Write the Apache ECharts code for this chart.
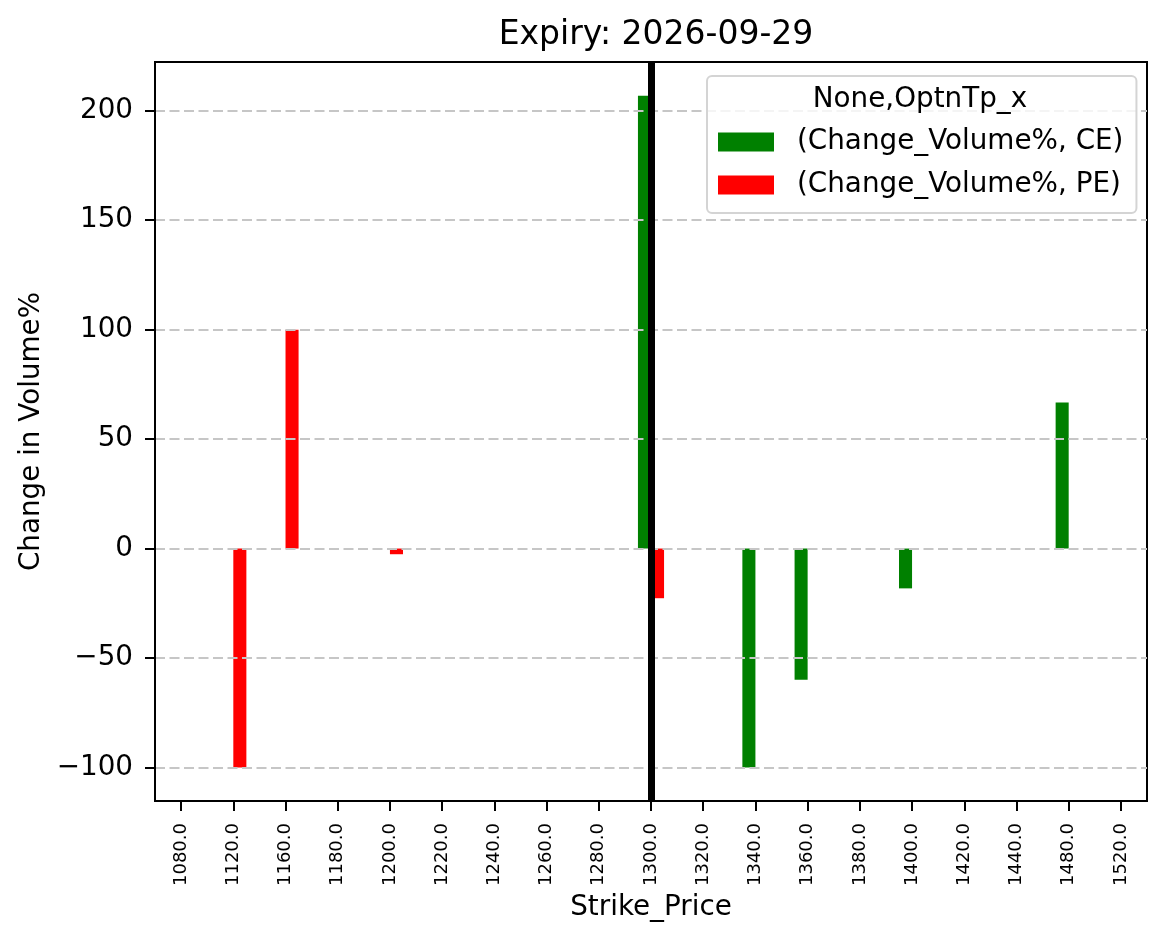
<!DOCTYPE html>
<html>
<head>
<meta charset="utf-8">
<script src="https://cdn.jsdelivr.net/npm/echarts@6/dist/echarts.min.js"></script>
<style>
  html, body { margin: 0; padding: 0; background: #fff; }
  #chart { width: 1166px; height: 939px; }
</style>
</head>
<body>
<div id="chart"></div>
<script>
// ---- data ----
const categories = ['1080.0', '1120.0', '1160.0', '1180.0', '1200.0', '1220.0', '1240.0', '1260.0', '1280.0', '1300.0',
  '1320.0', '1340.0', '1360.0', '1380.0', '1400.0', '1420.0', '1440.0', '1480.0', '1520.0'];
const ceValues = [null, null, null, null, null, null, null, null, null, 206.9,
  null, -100, -60, null, -18.2, null, null, 66.7, null];
const peValues = [null, -100, 100, null, -2.6, null, null, null, null, -22.7,
  null, null, null, null, null, null, null, null, null];
const yTicks = [-100, -50, 0, 50, 100, 150, 200];
const atmStrike = '1300.0';
const chartTitle = 'Expiry: 2026-09-29';
const legendTitle = 'None,OptnTp_x';
const ceName = '(Change_Volume%, CE)';
const peName = '(Change_Volume%, PE)';

const FONT = 'DejaVu Sans';
const chart = echarts.init(document.getElementById('chart'), null, { renderer: 'canvas' });

const option = {
  backgroundColor: '#ffffff',
  animation: false,
  textStyle: { fontFamily: FONT, color: '#000' },
  title: {
    text: chartTitle,
    left: 651,
    textAlign: 'center',
    top: 14,
    textStyle: { fontFamily: FONT, fontSize: 33, fontWeight: 'normal', color: '#000' }
  },
  grid: {
    left: 155, right: 19, top: 62, bottom: 138,
    show: true, borderColor: '#000', borderWidth: 2, backgroundColor: 'transparent'
  },
  legend: {
    data: [ceName, peName],
    orient: 'vertical',
    left: 707,
    top: 76,
    padding: [52, 13, 14, 11],
    itemWidth: 56,
    itemHeight: 19,
    itemGap: 15,
    icon: 'rect',
    backgroundColor: 'rgba(255,255,255,0.8)',
    borderColor: '#d4d4d4',
    borderWidth: 2,
    borderRadius: 5,
    z: 6,
    textStyle: { fontFamily: FONT, fontSize: 27.8, color: '#000', lineHeight: 28, padding: [0, 0, 0, 18] }
  },
  graphic: [{
    type: 'text',
    z: 100,
    x: 920,
    y: 100,
    style: { text: legendTitle, font: '27.8px "DejaVu Sans"', fill: '#000', textAlign: 'center', textVerticalAlign: 'middle' }
  }],
  xAxis: {
    type: 'category',
    data: categories,
    name: 'Strike_Price',
    nameLocation: 'middle',
    nameGap: 86,
    nameTextStyle: { fontFamily: FONT, fontSize: 27.8, color: '#000' },
    axisLine: { show: true, onZero: false, lineStyle: { color: '#000', width: 2 } },
    axisTick: { show: true, alignWithLabel: true, length: 10, lineStyle: { color: '#000', width: 2 } },
    axisLabel: { rotate: 90, fontSize: 18, margin: 22, color: '#000', fontFamily: FONT, interval: 0 },
    splitLine: { show: false }
  },
  yAxis: {
    type: 'value',
    min: -115.35,
    max: 222.3,
    z: 3,
    name: 'Change in Volume%',
    nameLocation: 'middle',
    nameGap: 108,
    nameTextStyle: { fontFamily: FONT, fontSize: 27.8, color: '#000' },
    axisLine: { show: true, lineStyle: { color: '#000', width: 2 } },
    axisTick: { show: true, length: 10, lineStyle: { color: '#000', width: 2 }, customValues: yTicks },
    axisLabel: {
      fontSize: 27.8, margin: 22, color: '#000', fontFamily: FONT, customValues: yTicks,
      formatter: v => (v < 0 ? '\u2212' + Math.abs(v) : String(v))
    },
    splitLine: { show: true, lineStyle: { color: '#c6c6c6', width: 2, type: [10, 4.5] } }
  },
  series: [
    {
      name: ceName,
      type: 'bar',
      data: ceValues,
      barWidth: '25%',
      barGap: '0%',
      itemStyle: { color: '#008000' },
      z: 2
    },
    {
      name: peName,
      type: 'bar',
      data: peValues,
      barWidth: '25%',
      barGap: '0%',
      itemStyle: { color: '#ff0000' },
      z: 2
    },
    {
      name: 'atm',
      type: 'line',
      data: [],
      z: 10,
      silent: true,
      markLine: {
        silent: true,
        symbol: ['none', 'none'],
        label: { show: false },
        lineStyle: { color: '#000', width: 7, type: 'solid' },
        data: [{ xAxis: atmStrike }]
      }
    }
  ]
};
chart.setOption(option);
</script>
</body>
</html>
